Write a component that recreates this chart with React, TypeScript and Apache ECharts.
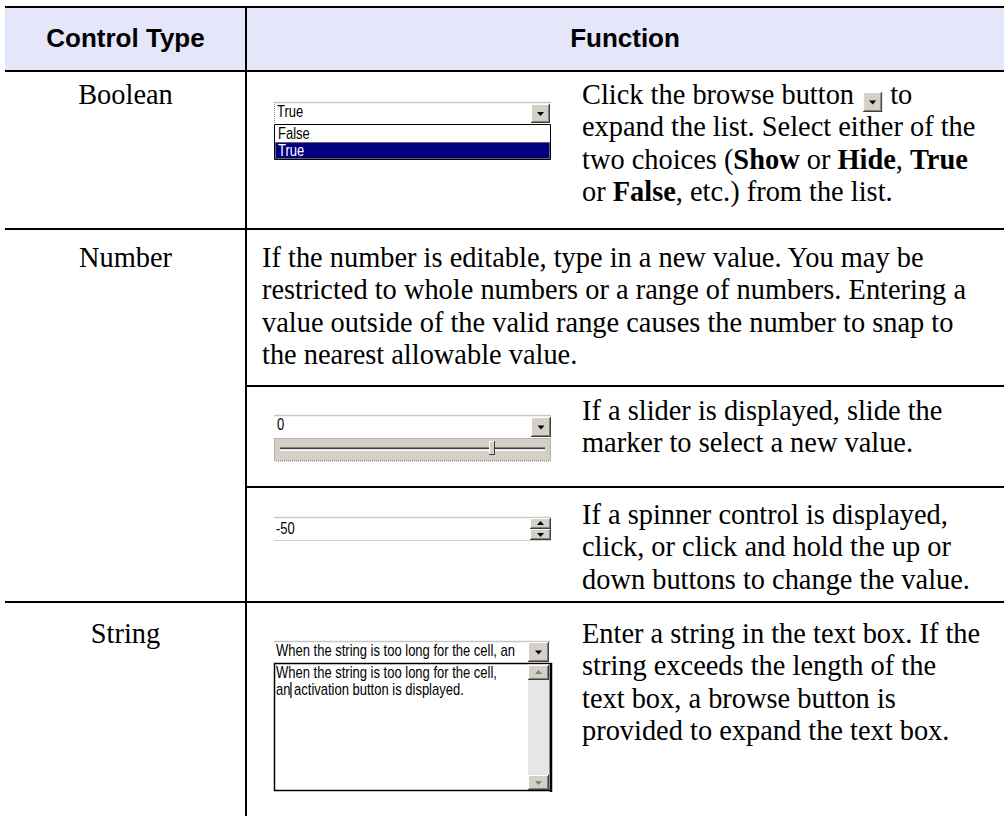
import React, { useEffect, useRef } from 'react';
import * as echarts from 'echarts';

// ---- content ----
const headers = ['Control Type', 'Function'];
const controlTypes = ['Boolean', 'Number', 'String'];
const booleanLines = [
  'expand the list. Select either of the',
  'two choices ({b|Show} or {b|Hide}, {b|True}',
  'or {b|False}, etc.) from the list.',
];
const booleanFirstLine = ['Click the browse button', 'to'];
const numberLines = [
  'If the number is editable, type in a new value. You may be',
  'restricted to whole numbers or a range of numbers. Entering a',
  'value outside of the valid range causes the number to snap to',
  'the nearest allowable value.',
];
const sliderLines = ['If a slider is displayed, slide the', 'marker to select a new value.'];
const spinnerLines = [
  'If a spinner control is displayed,',
  'click, or click and hold the up or',
  'down buttons to change the value.',
];
const stringLines = [
  'Enter a string in the text box. If the',
  'string exceeds the length of the',
  'text box, a browse button is',
  'provided to expand the text box.',
];
const booleanChoices = ['False', 'True'];
const booleanValue = 'True';
const sliderValue = '0';
const sliderFraction = [0.8];
const spinnerValue = '-50';
const stringShort = 'When the string is too long for the cell, an';
const stringLong = ['When the string is too long for the cell,', 'an', 'an activation button is displayed.'];

const SERIF = '"Liberation Serif", "Times New Roman", serif';
const SANS = '"Liberation Sans", Arial, sans-serif';

function measure(text: string, font: string): number {
  const ctx = document.createElement('canvas').getContext('2d');
  if (!ctx) return text.length * 10;
  ctx.font = font;
  return ctx.measureText(text).width;
}

export default function App() {
  const ref = useRef<HTMLDivElement>(null);
  useEffect(() => {
    document.body.style.margin = '0';
    if (!ref.current) return;
    const chart = echarts.init(ref.current, undefined, { renderer: 'svg' });
    const els: any[] = [];
    const BODY = 28.4;
    const LH = 32.5;
    const OFF = 9.6;
    const line = (x1: number, y1: number, x2: number, y2: number, w = 2, c = '#000', dash?: number[]) =>
      els.push({ type: 'line', shape: { x1, y1, x2, y2 }, style: { stroke: c, lineWidth: w, lineDash: dash }, silent: true });
    const rect = (x: number, y: number, w: number, h: number, style: any) =>
      els.push({ type: 'rect', shape: { x, y, width: w, height: h }, style, silent: true });
    const poly = (pts: number[][], fill: string) => els.push({ type: 'polygon', shape: { points: pts }, style: { fill }, silent: true });
    const body = (x: number, baseline: number, str: string, align = 'left') =>
      els.push({
        type: 'text', x, y: baseline - OFF, silent: true,
        style: {
          text: str, fontFamily: SERIF, fontSize: BODY, fill: '#000', align, verticalAlign: 'middle',
          rich: { b: { fontFamily: SERIF, fontSize: BODY, fontWeight: 'bold', fill: '#000' } },
        },
      });
    const small = (x: number, cy: number, str: string, color = '#000') =>
      els.push({
        type: 'text', x, y: cy, scaleY: 1.23, silent: true,
        style: { text: str, fontFamily: SANS, fontSize: 13, fill: color, align: 'left', verticalAlign: 'middle' },
      });
    const button = (x: number, y: number, w: number, h: number, dir: 'down' | 'up' = 'down', arrow = '#000') => {
      rect(x, y, w, h, { fill: '#d4d0c8' });
      line(x, y + 0.5, x + w, y + 0.5, 1, '#ffffff');
      line(x + 0.5, y, x + 0.5, y + h, 1, '#ffffff');
      line(x, y + h - 0.5, x + w, y + h - 0.5, 1, '#404040');
      line(x + w - 0.5, y, x + w - 0.5, y + h, 1, '#404040');
      line(x + 1, y + h - 1.5, x + w - 1, y + h - 1.5, 1, '#808080');
      line(x + w - 1.5, y + 1, x + w - 1.5, y + h - 1, 1, '#808080');
      const cx = x + w / 2, cy = y + h / 2;
      if (dir === 'down') poly([[cx - 3.5, cy - 1.5], [cx + 3.5, cy - 1.5], [cx, cy + 2.5]], arrow);
      else poly([[cx - 3.5, cy + 1.5], [cx + 3.5, cy + 1.5], [cx, cy - 2.5]], arrow);
    };

    // header
    rect(5, 7, 999, 64, { fill: '#e6e6fa' });
    const hdrStyle = { fontFamily: SANS, fontSize: 26, fontWeight: 'bold', fill: '#000', align: 'center', verticalAlign: 'middle' };
    els.push({ type: 'text', x: 125.5, y: 38, silent: true, style: { ...hdrStyle, text: headers[0] } });
    els.push({ type: 'text', x: 625, y: 38, silent: true, style: { ...hdrStyle, text: headers[1] } });

    // grid lines
    line(5, 7, 1004, 7);
    line(5, 71, 1004, 71);
    line(246, 7, 246, 816);
    line(5, 229, 1004, 229);
    line(246, 386, 1004, 386);
    line(246, 487, 1004, 487);
    line(5, 602, 1004, 602);

    // baselines of the first text line in each cell
    const bBool = 104, bNum = 267, bSlider = 420, bSpin = 524, bStr = 643;

    // left column
    const leftBase = [bBool, bNum, bStr];
    controlTypes.forEach((t, i) => body(125.5, leftBase[i], t, 'center'));

    // Boolean description
    const font = `${BODY}px ${SERIF}`;
    const X = 582;
    body(X, bBool, booleanFirstLine[0]);
    const w0 = measure(booleanFirstLine[0] + ' ', font);
    const bx = X + w0 + 2;
    button(bx, 92, 19, 20);
    body(bx + 19 + measure(' ', font) + 1, bBool, booleanFirstLine[1]);
    booleanLines.forEach((s, i) => body(X, bBool + LH * (i + 1), s));

    // Number / slider / spinner / string descriptions
    numberLines.forEach((s, i) => body(262, bNum + LH * i, s));
    sliderLines.forEach((s, i) => body(X, bSlider + LH * i, s));
    spinnerLines.forEach((s, i) => body(X, bSpin + LH * i, s));
    stringLines.forEach((s, i) => body(X, bStr + LH * i, s));

    // Boolean dropdown widget
    rect(274, 102, 277, 22, { fill: '#fff' });
    line(274, 102.5, 551, 102.5, 1.5, '#c8c8c8');
    line(274.5, 102, 274.5, 124, 1, '#909090', [1, 1]);
    small(277, 111.5, booleanValue);
    button(531, 104, 19, 19);
    rect(274.5, 124.5, 276, 35, { fill: '#fff', stroke: '#000', lineWidth: 1 });
    rect(275, 142, 275, 17, { fill: '#000080' });
    rect(275.5, 142.5, 274, 16, { fill: 'none', stroke: '#c8c860', lineWidth: 1, lineDash: [1, 1] });
    small(278, 134, booleanChoices[0]);
    small(278, 150.5, booleanChoices[1], '#fff');

    // Slider widget
    rect(274, 415, 277, 23, { fill: '#fff' });
    line(274, 415.5, 551, 415.5, 1.5, '#c8c8c8');
    small(277, 425, sliderValue);
    button(531, 417, 20, 20);
    rect(274.5, 438.5, 276, 22.5, { fill: '#d4d0c8', stroke: '#808080', lineWidth: 1, lineDash: [1, 1] });
    const tx0 = 280, tx1 = 545;
    line(tx0, 447.5, tx1, 447.5, 1, '#808080');
    line(tx0, 448.5, tx1, 448.5, 1, '#404040');
    line(tx0, 449.5, tx1, 449.5, 1, '#e0e0e0');
    line(tx0, 450.5, tx1, 450.5, 1, '#ffffff');
    const thumbX = tx0 + (tx1 - tx0) * sliderFraction[0];
    rect(thumbX - 3, 441, 6, 14, { fill: '#d4d0c8' });
    line(thumbX - 3, 441.5, thumbX + 3, 441.5, 1, '#fff');
    line(thumbX - 2.5, 441, thumbX - 2.5, 455, 1, '#fff');
    line(thumbX + 2.5, 441, thumbX + 2.5, 455, 1, '#404040');
    line(thumbX - 3, 454.5, thumbX + 3, 454.5, 1, '#404040');

    // Spinner widget
    rect(274, 517, 277, 24, { fill: '#fff' });
    line(274, 517.5, 551, 517.5, 1.5, '#c8c8c8');
    line(274, 540.5, 551, 540.5, 1, '#d0d0d0');
    small(276, 528.5, spinnerValue);
    button(530, 518, 21, 11, 'up');
    button(530, 529, 21, 11, 'down');

    // String widget
    rect(274, 641, 276, 22, { fill: '#fff' });
    line(274, 641.5, 550, 641.5, 1.5, '#c8c8c8');
    small(276, 650.5, stringShort);
    button(528, 642, 21, 20);
    rect(274.5, 663.5, 276, 127, { fill: '#fff', stroke: '#000', lineWidth: 1.5 });
    line(551, 663, 551, 792, 2.5, '#000');
    rect(528, 664.5, 21, 125.5, { fill: '#e6e6e6' });
    button(528, 665, 21, 15, 'up', '#808080');
    button(528, 775, 21, 15, 'down', '#808080');
    small(276, 673, stringLong[0]);
    small(276, 689.5, stringLong[2]);
    const caretX = 276 + measure(stringLong[1], `13px ${SANS}`) + 0.5;
    line(caretX, 682, caretX, 698, 1.2, '#000');

    chart.setOption({ animation: false, backgroundColor: '#ffffff', graphic: { elements: els } });
    return () => chart.dispose();
  }, []);
  return <div ref={ref} style={{ position: 'absolute', left: 0, top: 0, width: 1004, height: 816 }} />;
}
